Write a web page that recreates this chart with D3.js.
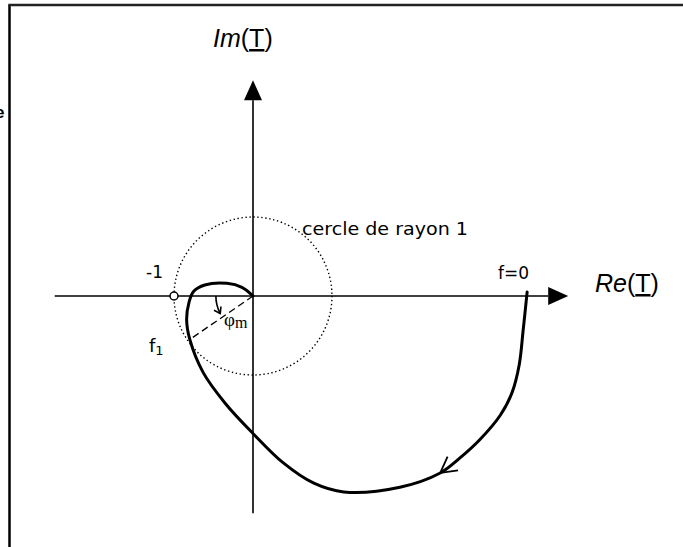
<!DOCTYPE html>
<html>
<head>
<meta charset="utf-8">
<script src="https://cdn.jsdelivr.net/npm/d3@7"></script>
<style>
  html, body { margin: 0; padding: 0; background: #fff; }
  svg { display: block; }
</style>
</head>
<body>
<svg id="chart" width="683" height="547"></svg>
<script>
// Nyquist locus of T(jw), in the complex plane (Re, Im), from f=0 downwards
const locusRe = [3.47, 3.42, 3.37, 3.28, 3.13, 2.87, 2.62, 2.37, 1.86, 1.15, 0.77, 0.38, 0.00,
                 -0.35, -0.63, -0.80, -0.84, -0.81, -0.75, -0.61, -0.33, -0.14, 0.00];
const locusIm = [0.05, -0.43, -0.87, -1.22, -1.51, -1.82, -2.05, -2.24, -2.42, -2.48, -2.37, -2.11, -1.74,
                 -1.36, -0.97, -0.55, -0.30, -0.08, 0.06, 0.14, 0.16, 0.11, 0.00];
// index of the point where the direction arrow sits
const arrowIndex = 7;
// crossing with the unit circle (f1) and the phase margin angle
const f1Point = [-0.80, -0.55];
const phiArcRadius = 0.47;
const phiArcSweepDeg = 28;
// critical point and unit circle radius
const criticalPoint = [-1, 0];
const unitRadius = 1;
// axis extents (data units)
const reExtent = [-2.51, 3.99];
const imExtent = [-2.75, 2.73];

const svg = d3.select("#chart");

// 1 unit = 79 px, origin of the plane at (253, 296)
const x = d3.scaleLinear().domain([0, 1]).range([253, 332]);
const y = d3.scaleLinear().domain([0, 1]).range([296, 217]);
const px = v => x(v) - x(0);

// page frame (left and top edges)
svg.append("line").attr("x1", 9.5).attr("y1", 5).attr("x2", 9.5).attr("y2", 547)
  .attr("stroke", "#000").attr("stroke-width", 2.5);
svg.append("line").attr("x1", 8.3).attr("y1", 5).attr("x2", 683).attr("y2", 5)
  .attr("stroke", "#222").attr("stroke-width", 2.5);
svg.append("text").attr("x", 4.5).attr("y", 118).attr("text-anchor", "end")
  .attr("font-family", "Liberation Sans, Arial, sans-serif").attr("font-weight", "bold")
  .attr("font-size", 17).text("e");

// axes
const headLen = 20, headHalf = 9;
svg.append("line")
  .attr("x1", x(reExtent[0])).attr("y1", y(0))
  .attr("x2", x(reExtent[1]) - headLen).attr("y2", y(0))
  .attr("stroke", "#000").attr("stroke-width", 1.6);
svg.append("path")
  .attr("d", `M${x(reExtent[1])},${y(0)} L${x(reExtent[1]) - headLen},${y(0) - headHalf} L${x(reExtent[1]) - headLen},${y(0) + headHalf}Z`)
  .attr("fill", "#000");
svg.append("line")
  .attr("x1", x(0)).attr("y1", y(imExtent[0]))
  .attr("x2", x(0)).attr("y2", y(imExtent[1]) + headLen)
  .attr("stroke", "#000").attr("stroke-width", 1.6);
svg.append("path")
  .attr("d", `M${x(0)},${y(imExtent[1])} L${x(0) - headHalf},${y(imExtent[1]) + headLen} L${x(0) + headHalf},${y(imExtent[1]) + headLen}Z`)
  .attr("fill", "#000");

// unit circle (dotted)
svg.append("circle")
  .attr("cx", x(0)).attr("cy", y(0)).attr("r", px(unitRadius))
  .attr("fill", "none").attr("stroke", "#000").attr("stroke-width", 1.4)
  .attr("stroke-dasharray", "1.4 2.6");

// dashed radius to f1
svg.append("line")
  .attr("x1", x(0)).attr("y1", y(0))
  .attr("x2", x(f1Point[0])).attr("y2", y(f1Point[1]))
  .attr("stroke", "#000").attr("stroke-width", 1.3)
  .attr("stroke-dasharray", "7 4");

// phase-margin arc with its arrowhead
const sweep = phiArcSweepDeg * Math.PI / 180;
const arcPath = d3.path();
arcPath.arc(x(0), y(0), px(phiArcRadius), Math.PI, Math.PI - sweep, true);
svg.append("path").attr("d", arcPath.toString())
  .attr("fill", "none").attr("stroke", "#000").attr("stroke-width", 1.6);
const endA = Math.PI - sweep;
const ex = x(0) + px(phiArcRadius) * Math.cos(endA);
const ey = y(0) + px(phiArcRadius) * Math.sin(endA);
// tangent direction at the arc end
const tdir = endA - Math.PI / 2;
const ah = 7, aa = 0.6;
svg.append("path")
  .attr("d", `M${ex + ah * Math.cos(tdir + Math.PI - aa)},${ey + ah * Math.sin(tdir + Math.PI - aa)} L${ex},${ey} L${ex + ah * Math.cos(tdir + Math.PI + aa)},${ey + ah * Math.sin(tdir + Math.PI + aa)}`)
  .attr("fill", "none").attr("stroke", "#000").attr("stroke-width", 1.6);

// the locus
const pts = locusRe.map((r, i) => [r, locusIm[i]]);
const line = d3.line().x(d => x(d[0])).y(d => y(d[1])).curve(d3.curveCatmullRom.alpha(0.5));
svg.append("path").attr("d", line(pts))
  .attr("fill", "none").attr("stroke", "#000").attr("stroke-width", 3)
  .attr("stroke-linejoin", "round").attr("stroke-linecap", "round");

// direction arrow on the locus (open V)
{
  const p = pts[arrowIndex], q = pts[arrowIndex - 1];
  const vx = x(p[0]), vy = y(p[1]);
  const back = Math.atan2(y(q[1]) - vy, x(q[0]) - vx);
  const armLen = 18, half = 0.5;
  svg.append("path")
    .attr("d", `M${vx + armLen * Math.cos(back - half)},${vy + armLen * Math.sin(back - half)} L${vx},${vy} L${vx + armLen * Math.cos(back + half)},${vy + armLen * Math.sin(back + half)}`)
    .attr("fill", "none").attr("stroke", "#000").attr("stroke-width", 1.8);
}

// critical point -1
svg.append("circle")
  .attr("cx", x(criticalPoint[0])).attr("cy", y(criticalPoint[1])).attr("r", 4)
  .attr("fill", "#fff").attr("stroke", "#000").attr("stroke-width", 1.5);

// labels
const hand = "DejaVu Sans, Noto Sans, sans-serif";
const sans = "Liberation Sans, Arial, sans-serif";
const serif = "Liberation Serif, Times New Roman, serif";

function axisLabel(tx, ty, italicPart) {
  const t = svg.append("text").attr("x", tx).attr("y", ty)
    .attr("font-family", sans).attr("font-size", 25);
  t.append("tspan").attr("font-style", "italic").text(italicPart);
  t.append("tspan").text("(");
  t.append("tspan").attr("text-decoration", "underline").text("T");
  t.append("tspan").text(")");
}
axisLabel(213, 47, "Im");
axisLabel(595, 292, "Re");

svg.append("text").attr("x", 498).attr("y", 279)
  .attr("font-family", hand).attr("font-size", 17).text("f=0");
svg.append("text").attr("x", 146).attr("y", 278)
  .attr("font-family", hand).attr("font-size", 17).text("-1");
svg.append("text").attr("x", 302).attr("y", 235)
  .attr("font-family", hand).attr("font-size", 17)
  .attr("textLength", 166).attr("lengthAdjust", "spacingAndGlyphs")
  .text("cercle de rayon 1");
{
  const t = svg.append("text").attr("x", 149).attr("y", 352)
    .attr("font-family", hand).attr("font-size", 18);
  t.append("tspan").text("f");
  t.append("tspan").attr("font-size", 13).attr("dy", 3).text("1");
}
{
  const t = svg.append("text").attr("x", 224).attr("y", 326)
    .attr("font-family", serif).attr("font-size", 19);
  t.append("tspan").text("φ");
  t.append("tspan").attr("font-size", 16).attr("dy", 2).text("m");
}
</script>
</body>
</html>
